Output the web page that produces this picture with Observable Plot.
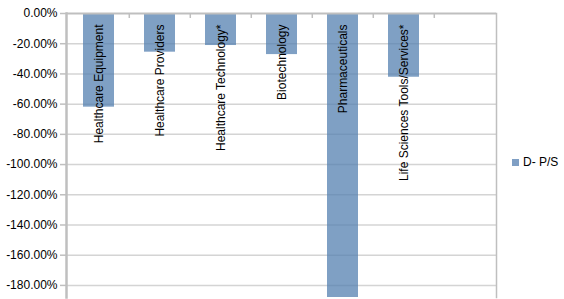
<!DOCTYPE html>
<html>
<head>
<meta charset="utf-8">
<script src="https://cdn.jsdelivr.net/npm/d3@7"></script>
<script src="https://cdn.jsdelivr.net/npm/@observablehq/plot@0.6"></script>
<style>
  html, body { margin: 0; padding: 0; background: #fff; }
  #wrap { position: relative; width: 564px; height: 299px; font-family: "Liberation Sans", Arial, sans-serif; }
  #legend { position: absolute; left: 512px; top: 155px; font-size: 12px; color: #000; display: flex; align-items: center; white-space: nowrap; }
  #legend .sw { display: inline-block; width: 7px; height: 7px; background: #7f9fc4; margin-right: 4px; }
</style>
</head>
<body>
<div id="wrap"><div id="legend"><span class="sw"></span><span>D- P/S</span></div></div>
<script>
const categories = ["Healthcare Equipment", "Healthcare Providers", "Healthcare Technology*", "Biotechnology", "Pharmaceuticals", "Life Sciences Tools/Services*", ""];
const values = [-62.0, -25.6, -21.2, -27.2, -195, -42.2, null];
const yTicks = [0, -20, -40, -60, -80, -100, -120, -140, -160, -180];
const seriesName = "D- P/S";

const data = categories.map((c, i) => ({category: c, value: values[i]}));
const W = 564, H = 299, mL = 66, mR = 68, mT = 13, mB = 2;
const step = (W - mL - mR) / categories.length;

const chart = Plot.plot({
  width: W, height: H,
  marginLeft: mL, marginRight: mR, marginTop: mT, marginBottom: mB,
  style: {fontFamily: "Liberation Sans, Arial, sans-serif", fontSize: "12px", color: "#000", background: "#fff"},
  x: {domain: categories, paddingInner: 0.5, paddingOuter: 0.25, axis: null},
  y: {domain: [-188, 0]},
  marks: [
    Plot.ruleY(yTicks.filter(d => d !== 0), {stroke: "#d4d4d4", strokeWidth: 1.5}),
    Plot.barY(data.filter(d => d.value != null), {x: "category", y: "value", fill: "#5480b0", fillOpacity: 0.75, clip: true}),
    Plot.axisY(yTicks, {tickSize: 6, tickPadding: 3, stroke: "#bfbfbf", strokeWidth: 1.5, fill: "#000", fontSize: 12, label: null,
      tickFormat: d => `${d.toFixed(2)}%`}),
    Plot.ruleY([0], {stroke: "#bfbfbf", strokeWidth: 2}),
    Plot.ruleX(categories.slice(1), {x: d => d, y1: 0, y2: -3.3, dx: -step / 2, stroke: "#bfbfbf", strokeWidth: 1.5}),
    Plot.frame({anchor: "left", stroke: "#bfbfbf", strokeWidth: 2.5}),
    Plot.frame({anchor: "right", stroke: "#bfbfbf", strokeWidth: 1.5}),
    Plot.text(data, {x: "category", y: () => 0, text: "category", rotate: -90, textAnchor: "end", dy: 11, fill: "#000", fontSize: 12})
  ]
});
document.getElementById("wrap").prepend(chart);
chart.style.display = "block";
</script>
</body>
</html>
